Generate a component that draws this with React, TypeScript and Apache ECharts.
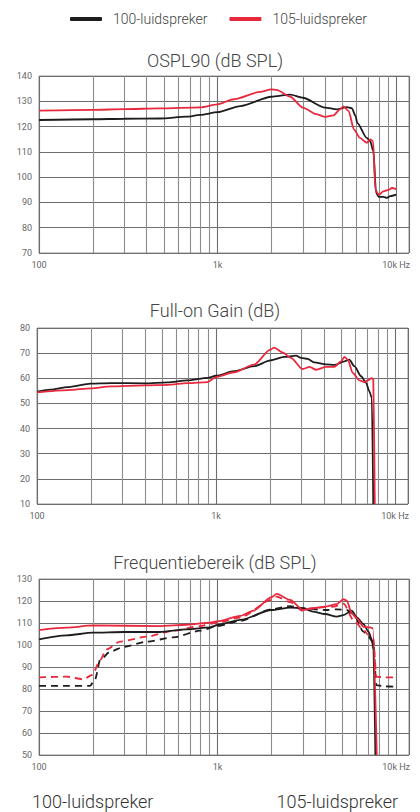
import React, { useEffect, useRef } from "react";
import * as echarts from "echarts";

const seriesNames = ["100-luidspreker", "105-luidspreker"];
const chartTitles = ["OSPL90 (dB SPL)", "Full-on Gain (dB)", "Frequentiebereik (dB SPL)"];
const bottomLabels = ["100-luidspreker", "105-luidspreker"];
const minorFreqs = [200, 300, 400, 500, 600, 700, 800, 900, 2000, 3000, 4000, 5000, 6000, 7000, 8000, 9000];
const xLabels: Record<number, string> = { 100: "100", 1000: "1k", 10000: "10k Hz" };

const ospl100: [number, number][] = [
  [100, 122.6], [200, 122.9], [300, 123.1], [475, 123.2], [670, 123.9], [800, 124.6], [1000, 125.7],
  [1340, 128.1], [2000, 131.8], [2550, 132.6], [3000, 131.4], [4000, 127.5], [4650, 126.8], [5290, 127.7],
  [5640, 127.3], [5930, 124.1], [6050, 121.5], [6850, 115.5], [7160, 114.2], [7450, 110.2], [7720, 93.8],
  [8000, 92.2], [8490, 92.2], [8870, 91.8], [9260, 92.5], [10000, 93.1],
];
const ospl105: [number, number][] = [
  [100, 126.3], [200, 126.6], [300, 126.9], [475, 127.2], [800, 127.6], [1000, 128.8], [1230, 130.8],
  [1730, 133.7], [2000, 134.7], [2140, 134.5], [2550, 131.8], [3000, 127.5], [3600, 124.8], [4000, 123.8],
  [4450, 124.4], [4850, 126.8], [5070, 128.0], [5420, 126.1], [5800, 118.9], [6270, 115.5], [6850, 113.6],
  [7160, 114.9], [7430, 114.2], [7650, 95], [8000, 93], [8480, 94.4], [9050, 95], [9480, 95.7], [10000, 95.3],
];

const gain100: [number, number][] = [
  [100, 54.7], [119, 55.5], [148, 56.5], [200, 57.9], [258, 58.1], [400, 58], [536, 58.4], [693, 59.2],
  [896, 60.2], [1000, 61], [1260, 62.8], [1630, 64.8], [2010, 67.1], [2400, 68.5], [2800, 69], [2980, 68.1],
  [3250, 67.7], [3540, 66.3], [4110, 65.5], [4580, 65.3], [5210, 66.7], [5550, 67.4], [5920, 64.8],
  [6460, 60.8], [6890, 58.1], [7180, 54.8], [7410, 52.2], [7550, 10],
];
const gain105: [number, number][] = [
  [100, 54.4], [148, 55.3], [200, 56], [258, 56.8], [400, 57.2], [536, 57.4], [693, 58.1], [896, 58.5],
  [1000, 60.5], [1260, 62.4], [1630, 65.4], [2010, 71.4], [2110, 72.2], [2350, 70.3], [2620, 68.1],
  [3040, 63.7], [3330, 64.5], [3620, 63.4], [4110, 64.5], [4580, 64.5], [4990, 66.7], [5210, 68.5],
  [5440, 67.4], [5800, 62.1], [6320, 59.2], [6740, 58.4], [7030, 59.2], [7410, 60.1], [7550, 59.5], [7700, 10],
];

const fr100: [number, number][] = [
  [100, 102.6], [143, 104.4], [200, 105.6], [300, 105.9], [475, 105.9], [670, 107.1], [908, 108],
  [1000, 109.1], [1340, 111.4], [2000, 115.9], [2550, 117], [3000, 116.7], [3420, 115.2], [4000, 114.1],
  [4650, 112.9], [5070, 113.6], [5640, 115.6], [6020, 112.6], [6560, 109.5], [7000, 106.1], [7320, 102.3],
  [7460, 97.7], [7650, 50],
];
const fr105: [number, number][] = [
  [100, 106.8], [143, 107.9], [200, 108.9], [475, 108.6], [670, 109.2], [908, 110.2], [1000, 110.8],
  [1340, 113.2], [1590, 115.6], [2000, 121.7], [2140, 123.2], [2550, 120.5], [3000, 115.9], [3420, 116.7],
  [4000, 117.4], [4650, 118.6], [5070, 120.8], [5290, 120.2], [5640, 114.4], [6020, 112.1], [6560, 108.3],
  [7150, 108], [7400, 107.6], [7790, 50],
];
const fr100Dashed: [number, number][] = [
  [100, 81.4], [143, 81.4], [193, 81.4], [206, 84.4], [220, 93.2], [250, 97], [300, 99.2], [401, 101.5],
  [566, 103.5], [798, 106.5], [1000, 108.6], [1340, 111], [2000, 116.2], [2550, 117.7], [3000, 116.7],
  [4000, 115.9], [4650, 116.2], [5290, 115.9], [5770, 114.1], [6560, 106.1], [7000, 103.8], [7450, 101],
  [7740, 81.8], [8500, 81.2], [10000, 81],
];
const fr105Dashed: [number, number][] = [
  [100, 85.3], [143, 85.6], [177, 84.4], [199, 86.4], [220, 93.2], [239, 98], [284, 101.5], [401, 103.8],
  [566, 106.5], [798, 108.6], [1000, 110.2], [1340, 112.5], [2000, 120.5], [2140, 122], [2550, 119.5],
  [3000, 115.5], [3300, 116.6], [4000, 117.2], [4450, 117.4], [4850, 118.2], [5070, 118.8], [5770, 111.4],
  [6560, 106.8], [7000, 104.5], [7450, 103], [7740, 85.6], [8500, 85.3], [10000, 85.3],
];

const yRanges: [number, number][] = [[70, 140], [10, 80], [50, 130]];

const BLACK = "#1e1c1d";
const RED = "#e8283d";
const FONT = "Roboto, 'Noto Sans', sans-serif";

export default function App() {
  const ref = useRef<HTMLDivElement>(null);
  useEffect(() => {
    if (!ref.current) return;
    const chart = echarts.init(ref.current, undefined, { renderer: "svg" });
    const grids = [
      { left: 39, top: 76, width: 370, height: 177 },
      { left: 37, top: 328, width: 371, height: 176 },
      { left: 39, top: 579, width: 370, height: 176 },
    ];
    const titleY = [60, 310, 562];
    const xAxes = grids.map((_, i) => ({
      type: "log",
      logBase: 10,
      gridIndex: i,
      min: 100,
      max: 11800,
      axisLine: { show: false },
      axisTick: { show: false },
      axisLabel: {
        fontSize: 9,
        color: "#666",
        fontFamily: FONT,
        margin: 7,
        showMaxLabel: false,
        formatter: (v: number) => xLabels[Math.round(v)] ?? "",
      },
      splitLine: { show: true, lineStyle: { color: "#6e6e6e", width: 1.1 } },
    }));
    const yAxes = yRanges.map((r, i) => ({
      type: "value",
      gridIndex: i,
      min: r[0],
      max: r[1],
      interval: 10,
      axisLine: { show: false },
      axisTick: { show: false },
      axisLabel: { fontSize: 9, color: "#666", fontFamily: FONT, margin: 7 },
      splitLine: { show: true, lineStyle: { color: "#6e6e6e", width: 1.1 } },
    }));
    const line = (name: string, data: [number, number][], idx: number, color: string, dashed = false) => ({
      type: "line",
      name,
      xAxisIndex: idx,
      yAxisIndex: idx,
      data,
      showSymbol: false,
      symbol: "none",
      smooth: 0.25,
      smoothMonotone: "x",
      z: 3,
      lineStyle: { color, width: 1.8, type: dashed ? [7, 5] : "solid" },
      itemStyle: { color },
    });
    const gridLines = (idx: number) => ({
      type: "line",
      name: "grid" + idx,
      xAxisIndex: idx,
      yAxisIndex: idx,
      data: [],
      silent: true,
      markLine: {
        silent: true,
        z: 1,
        symbol: ["none", "none"],
        label: { show: false },
        lineStyle: { color: "#8c8c8c", width: 1.1, type: "solid" },
        data: minorFreqs.map((f) => ({ xAxis: f })),
      },
    });
    chart.setOption({
      animation: false,
      legend: {
        data: seriesNames,
        left: 65,
        top: 7,
        icon: "roundRect",
        itemWidth: 32,
        itemHeight: 4,
        itemGap: 22,
        textStyle: { fontSize: 14, color: "#444", fontFamily: FONT, fontWeight: 300, padding: [0, 0, 0, 6] },
      },
      grid: grids.map((g) => ({ ...g, show: true, borderColor: "#999", borderWidth: 1 })),
      xAxis: xAxes,
      yAxis: yAxes,
      series: [
        gridLines(0), gridLines(1), gridLines(2),
        line(seriesNames[0], ospl100, 0, BLACK),
        line(seriesNames[1], ospl105, 0, RED),
        line(seriesNames[0], gain100, 1, BLACK),
        line(seriesNames[1], gain105, 1, RED),
        line(seriesNames[0], fr100Dashed, 2, BLACK, true),
        line(seriesNames[1], fr105Dashed, 2, RED, true),
        line(seriesNames[0], fr100, 2, BLACK),
        line(seriesNames[1], fr105, 2, RED),
      ],
      graphic: [
        ...chartTitles.map((t, i) => ({
          type: "text",
          x: 215,
          y: titleY[i],
          style: { text: t, fontSize: 18, fontWeight: 300, fontFamily: FONT, fill: "#444", align: "center", verticalAlign: "middle" },
        })),
        {
          type: "text", x: 32, y: 801,
          style: { text: bottomLabels[0], fontSize: 18, fontWeight: 300, fontFamily: FONT, fill: "#333", align: "left", verticalAlign: "middle" },
        },
        {
          type: "text", x: 398, y: 801,
          style: { text: bottomLabels[1], fontSize: 18, fontWeight: 300, fontFamily: FONT, fill: "#333", align: "right", verticalAlign: "middle" },
        },
      ],
    });
    return () => chart.dispose();
  }, []);
  return <div ref={ref} style={{ position: "absolute", left: 0, top: 0, width: 420, height: 812 }} />;
}
